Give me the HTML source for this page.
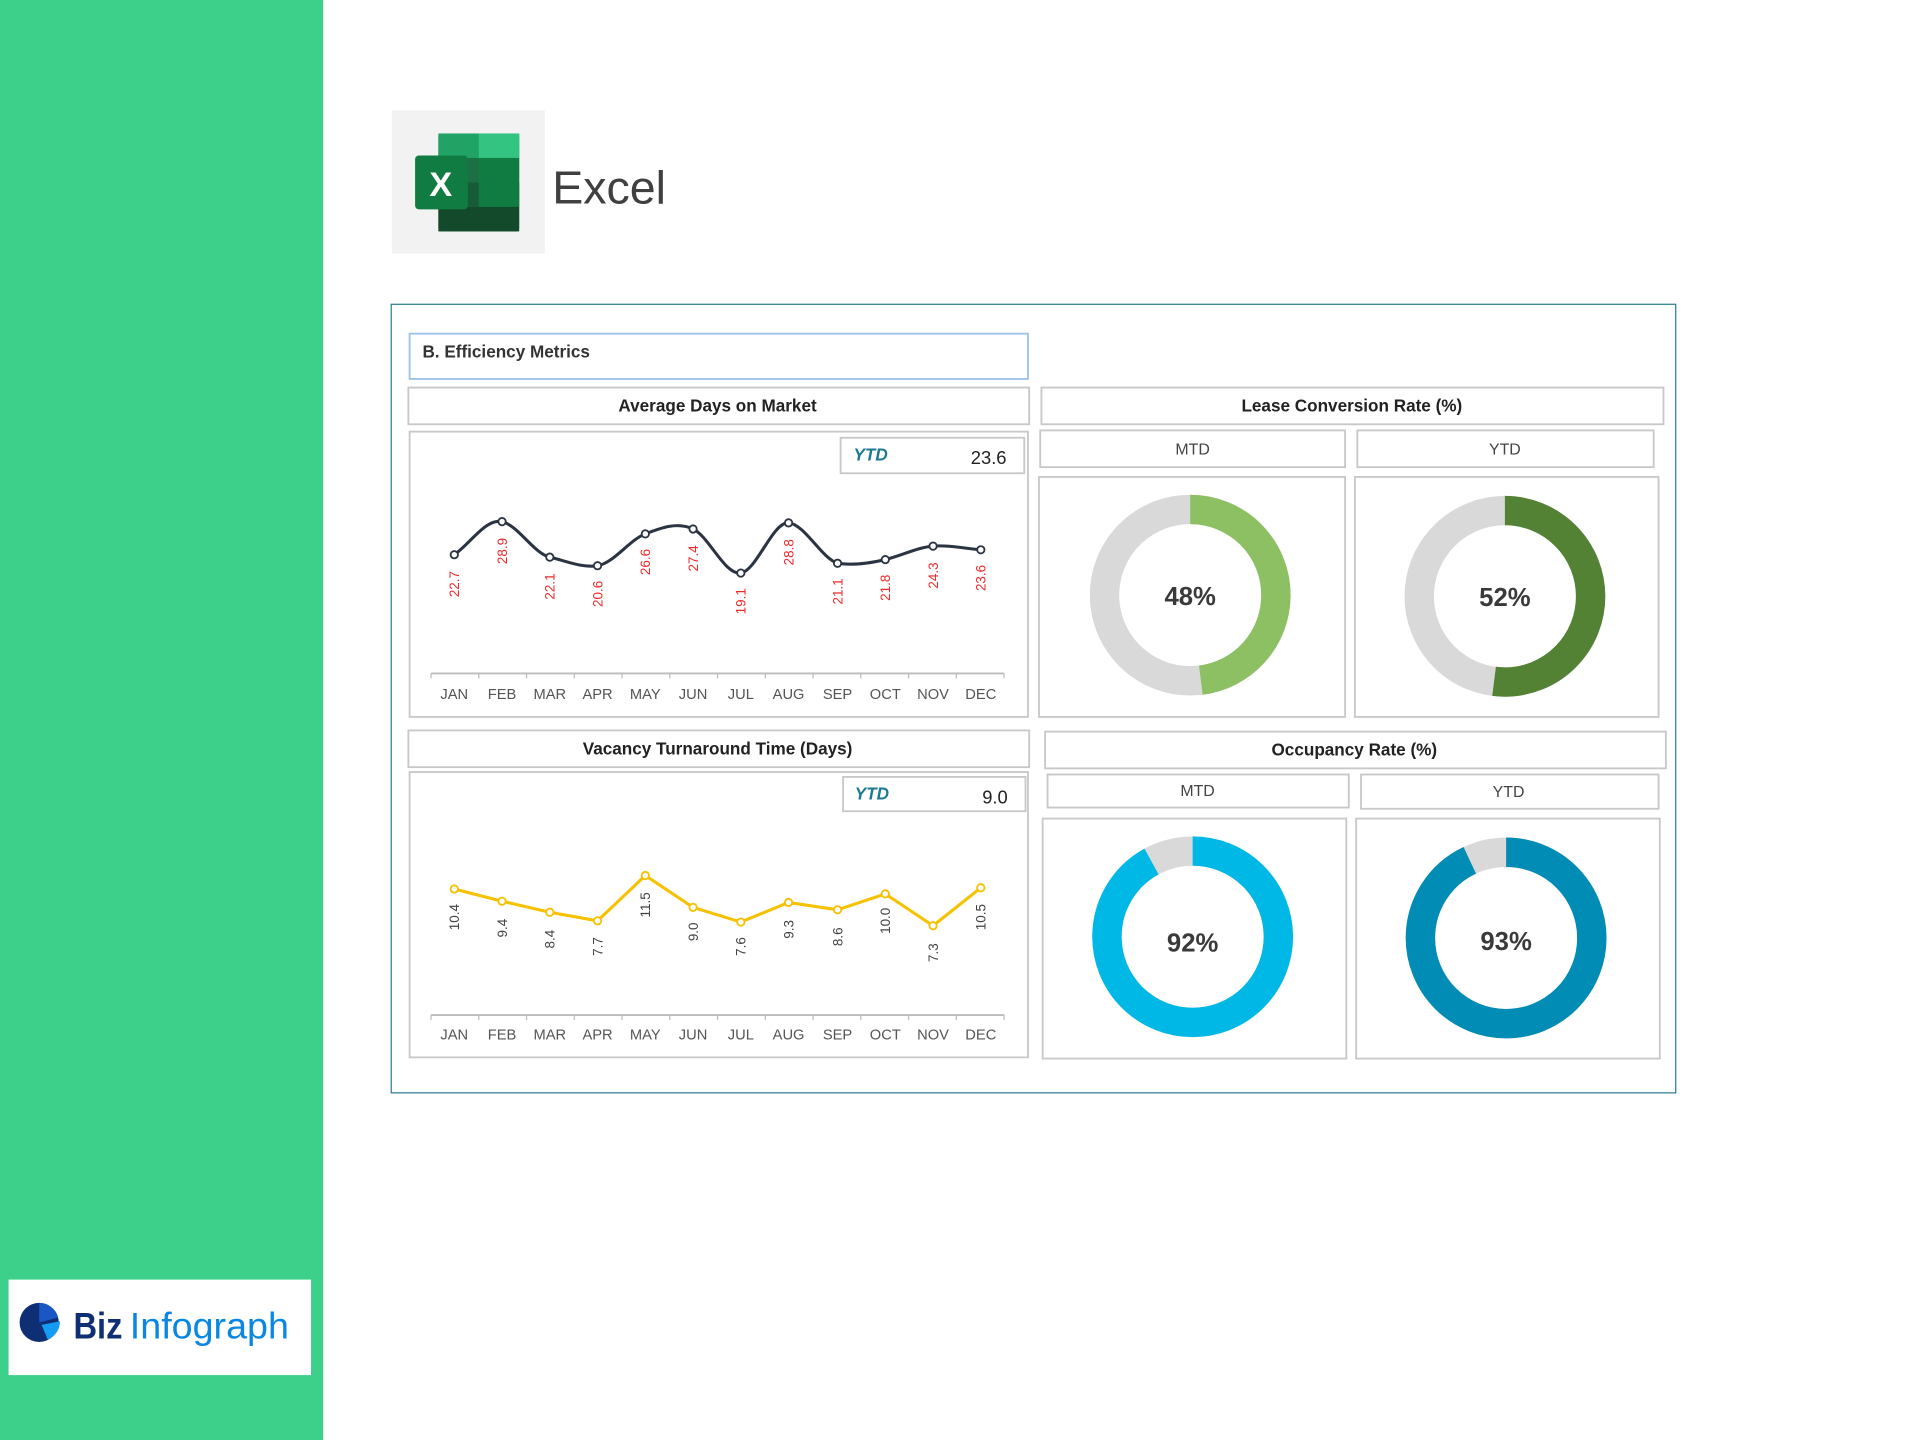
<!DOCTYPE html>
<html><head><meta charset="utf-8"><style>
html,body{margin:0;padding:0;background:#fff;}
svg{display:block;font-family:"Liberation Sans",sans-serif;}
</style></head><body>
<svg width="1920" height="1440" viewBox="0 0 1568 1176" xmlns="http://www.w3.org/2000/svg">
<rect x="0" y="0" width="1568" height="1176" fill="#fff"/>
<rect x="0" y="0" width="264" height="1176" fill="#3dd08b"/>
<rect x="7" y="1045" width="247" height="78" fill="#fff"/>
<g transform="translate(32,1080)">
<circle r="16" fill="#0f2f74"/>
<path d="M0,0 L0,-16 A16,16 0 0 1 15.5,-4 Z" fill="#1a56c4"/>
<path d="M2,2 L17,-1 A16,16 0 0 1 7,14 Z" fill="#149cf5" />
</g>
<text x="60" y="1093" font-size="30" font-weight="bold" fill="#0f2f74" textLength="40" lengthAdjust="spacingAndGlyphs">Biz</text>
<text x="106" y="1093" font-size="30" fill="#0a87e0" textLength="130" lengthAdjust="spacingAndGlyphs">Infograph</text>

<rect x="320" y="90" width="125" height="117" fill="#f2f2f2"/>
<rect x="358" y="109" width="66" height="80" rx="3" fill="#1d7044"/>
<rect x="358" y="109" width="66" height="20" fill="#21a366"/>
<rect x="391" y="109" width="33" height="20" fill="#33c481"/>
<rect x="391" y="129" width="33" height="20" fill="#107c41" />
<rect x="358" y="149" width="66" height="20" fill="#185c37"/>
<rect x="391" y="149" width="33" height="20" fill="#107c41"/>
<rect x="358" y="169" width="66" height="20" fill="#134a2c"/>
<rect x="339" y="127" width="43" height="44" rx="3" fill="#107c41"/>
<text x="360" y="160" font-size="28" font-weight="bold" fill="#fff" text-anchor="middle">X</text>
<text x="451" y="166" font-size="38" fill="#404040">Excel</text>

<rect x="319.5" y="248.5" width="1049" height="644" fill="#fff" stroke="#2a7d8e" stroke-width="1"/>
<rect x="334.5" y="272.5" width="505" height="37" fill="#fff" stroke="#9dc3e6" stroke-width="1.5"/>
<text x="345" y="292" font-size="14" font-weight="bold" fill="#333">B. Efficiency Metrics</text>

<g fill="#fff" stroke="#c8c8c8" stroke-width="1.5">
<rect x="333.5" y="316.5" width="507" height="30"/>
<rect x="850.5" y="316.5" width="508" height="30"/>
<rect x="849.5" y="351.5" width="249" height="30"/>
<rect x="1108.5" y="351.5" width="242" height="30"/>
<rect x="334.5" y="352.5" width="505" height="233"/>
<rect x="686.5" y="357.5" width="150" height="29"/>
<rect x="848.5" y="389.5" width="250" height="196"/>
<rect x="1106.5" y="389.5" width="248" height="196"/>
<rect x="333.5" y="596.5" width="507" height="30"/>
<rect x="853.5" y="597.5" width="507" height="30"/>
<rect x="855.5" y="632.5" width="246" height="27"/>
<rect x="1111.5" y="632.5" width="243" height="28"/>
<rect x="334.5" y="630.5" width="505" height="233"/>
<rect x="688.5" y="634.5" width="149" height="28"/>
<rect x="851.5" y="668.5" width="248" height="196"/>
<rect x="1107.5" y="668.5" width="248" height="196"/>
</g>
<g font-size="14" font-weight="bold" fill="#222" text-anchor="middle">
<text x="586" y="336">Average Days on Market</text>
<text x="1104" y="336">Lease Conversion Rate (%)</text>
<text x="586" y="616">Vacancy Turnaround Time (Days)</text>
<text x="1106" y="617">Occupancy Rate (%)</text>
</g>
<g font-size="13" fill="#444" text-anchor="middle">
<text x="974" y="371">MTD</text>
<text x="1229" y="371">YTD</text>
<text x="978" y="650">MTD</text>
<text x="1232" y="651">YTD</text>
</g>
<g font-size="14" font-weight="bold" font-style="italic" fill="#1b7a91">
<text x="697" y="376">YTD</text>
<text x="698" y="653">YTD</text>
</g>
<g font-size="15" fill="#222" text-anchor="end">
<text x="822" y="379">23.6</text>
<text x="823" y="656">9.0</text>
</g>

<!-- chart 1 -->
<line x1="352" y1="550" x2="820" y2="550" stroke="#bbb" stroke-width="1.5"/>
<line x1="352" y1="829" x2="820" y2="829" stroke="#bbb" stroke-width="1.5"/>
<g stroke="#bbb" stroke-width="1">
<path d="M352,550v4M391,550v4M430,550v4M469,550v4M508,550v4M547,550v4M586,550v4M625,550v4M664,550v4M703,550v4M742,550v4M781,550v4M820,550v4"/>
<path d="M352,829v4M391,829v4M430,829v4M469,829v4M508,829v4M547,829v4M586,829v4M625,829v4M664,829v4M703,829v4M742,829v4M781,829v4M820,829v4"/>
</g>
<g font-size="12" fill="#555" text-anchor="middle">
<text x="371" y="571">JAN</text><text x="410" y="571">FEB</text><text x="449" y="571">MAR</text><text x="488" y="571">APR</text><text x="527" y="571">MAY</text><text x="566" y="571">JUN</text><text x="605" y="571">JUL</text><text x="644" y="571">AUG</text><text x="684" y="571">SEP</text><text x="723" y="571">OCT</text><text x="762" y="571">NOV</text><text x="801" y="571">DEC</text>
<text x="371" y="849">JAN</text><text x="410" y="849">FEB</text><text x="449" y="849">MAR</text><text x="488" y="849">APR</text><text x="527" y="849">MAY</text><text x="566" y="849">JUN</text><text x="605" y="849">JUL</text><text x="644" y="849">AUG</text><text x="684" y="849">SEP</text><text x="723" y="849">OCT</text><text x="762" y="849">NOV</text><text x="801" y="849">DEC</text>
</g>
<path d="M371,453 C384,444 397,423 410,426 C423,429 436,452 449,455 C462,458 475,464 488,462 C501,460 514,441 527,436 C540,431 553,426 566,432 C579,438 592,470 605,468 C618,466 631,426 644,427 C657,428 671,456 684,460 C697,462 710,460 723,457 C736,454 749,447 762,446 C775,445 788,448 801,449" fill="none" stroke="#2b3443" stroke-width="2.5"/>
<g fill="#fff" stroke="#2b3443" stroke-width="1.5">
<circle cx="371" cy="453" r="3"/><circle cx="410" cy="426" r="3"/><circle cx="449" cy="455" r="3"/><circle cx="488" cy="462" r="3"/><circle cx="527" cy="436" r="3"/><circle cx="566" cy="432" r="3"/><circle cx="605" cy="468" r="3"/><circle cx="644" cy="427" r="3"/><circle cx="684" cy="460" r="3"/><circle cx="723" cy="457" r="3"/><circle cx="762" cy="446" r="3"/><circle cx="801" cy="449" r="3"/>
</g>
<g font-size="11" fill="#ee2a2a" text-anchor="middle">
<text transform="translate(375,477) rotate(-90)">22.7</text>
<text transform="translate(414,450) rotate(-90)">28.9</text>
<text transform="translate(453,479) rotate(-90)">22.1</text>
<text transform="translate(492,485) rotate(-90)">20.6</text>
<text transform="translate(531,459) rotate(-90)">26.6</text>
<text transform="translate(570,456) rotate(-90)">27.4</text>
<text transform="translate(609,491) rotate(-90)">19.1</text>
<text transform="translate(648,451) rotate(-90)">28.8</text>
<text transform="translate(688,483) rotate(-90)">21.1</text>
<text transform="translate(727,480) rotate(-90)">21.8</text>
<text transform="translate(766,470) rotate(-90)">24.3</text>
<text transform="translate(805,472) rotate(-90)">23.6</text>
</g>

<!-- chart 2 -->
<polyline points="371,726 410,736 449,745 488,752 527,715 566,741 605,753 644,737 684,743 723,730 762,756 801,725" fill="none" stroke="#f5c100" stroke-width="2.5"/>
<g fill="#fff" stroke="#f5c100" stroke-width="1.5">
<circle cx="371" cy="726" r="3"/><circle cx="410" cy="736" r="3"/><circle cx="449" cy="745" r="3"/><circle cx="488" cy="752" r="3"/><circle cx="527" cy="715" r="3"/><circle cx="566" cy="741" r="3"/><circle cx="605" cy="753" r="3"/><circle cx="644" cy="737" r="3"/><circle cx="684" cy="743" r="3"/><circle cx="723" cy="730" r="3"/><circle cx="762" cy="756" r="3"/><circle cx="801" cy="725" r="3"/>
</g>
<g font-size="11" fill="#444" text-anchor="middle">
<text transform="translate(375,749) rotate(-90)">10.4</text>
<text transform="translate(414,758) rotate(-90)">9.4</text>
<text transform="translate(453,767) rotate(-90)">8.4</text>
<text transform="translate(492,773) rotate(-90)">7.7</text>
<text transform="translate(531,739) rotate(-90)">11.5</text>
<text transform="translate(570,761) rotate(-90)">9.0</text>
<text transform="translate(609,773) rotate(-90)">7.6</text>
<text transform="translate(648,759) rotate(-90)">9.3</text>
<text transform="translate(688,765) rotate(-90)">8.6</text>
<text transform="translate(727,752) rotate(-90)">10.0</text>
<text transform="translate(766,778) rotate(-90)">7.3</text>
<text transform="translate(805,749) rotate(-90)">10.5</text>
</g>

<!-- donuts: r=70, circumference 439.82 -->
<g fill="none" stroke-width="24">
<circle cx="972" cy="486" r="70" stroke="#d9d9d9"/>
<circle cx="972" cy="486" r="70" stroke="#8cc063" stroke-dasharray="211.1 439.82" transform="rotate(-90 972 486)"/>
<circle cx="1229" cy="487" r="70" stroke="#d9d9d9"/>
<circle cx="1229" cy="487" r="70" stroke="#548235" stroke-dasharray="228.7 439.82" transform="rotate(-90 1229 487)"/>
<circle cx="974" cy="765" r="70" stroke="#d9d9d9"/>
<circle cx="974" cy="765" r="70" stroke="#00b8e6" stroke-dasharray="404.6 439.82" transform="rotate(-90 974 765)"/>
<circle cx="1230" cy="766" r="70" stroke="#d9d9d9"/>
<circle cx="1230" cy="766" r="70" stroke="#008cb4" stroke-dasharray="409.0 439.82" transform="rotate(-90 1230 766)"/>
</g>
<g font-size="21" font-weight="bold" fill="#3a3a3a" text-anchor="middle">
<text x="972" y="494">48%</text>
<text x="1229" y="495">52%</text>
<text x="974" y="777">92%</text>
<text x="1230" y="776">93%</text>
</g>
</svg>
</body></html>
